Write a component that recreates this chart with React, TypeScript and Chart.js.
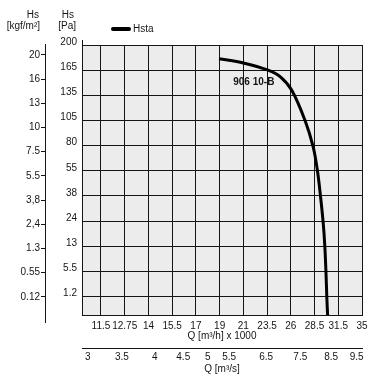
import React, { useEffect, useRef } from 'react';
import { Chart, registerables, LinearScale } from 'chart.js';

// ---- data ----
const qhTicks = [11.5, 12.75, 14, 15.5, 17, 19, 21, 23.5, 26, 28.5, 31.5, 35];
const qhLabels = ['11.5', '12.75', '14', '15.5', '17', '19', '21', '23.5', '26', '28.5', '31.5', '35'];
const qsTicks = [3, 3.5, 4, 4.5, 5, 5.5, 6.5, 7.5, 8.5, 9.5];
const paTicks = [1.2, 5.5, 13, 24, 38, 55, 80, 105, 135, 165, 200];
const kgfTicks = [0.12, 0.55, 1.3, 2.4, 3.8, 5.5, 7.5, 10, 13, 16, 20];
const kgfLabels = ['0.12', '0.55', '1.3', '2,4', '3,8', '5.5', '7.5', '10', '13', '16', '20'];

const curveQ = [18.95, 21, 23.6, 24.9, 26.1, 27.5, 28.35, 28.85, 29.25, 29.6, 29.8, 29.95, 30.05, 30.15];
const curveHs = [181, 175, 165, 157, 141, 105, 79, 56, 38, 23, 13, 5.2, 1.2, 0];
const seriesName = 'Hsta';
const curveTag = '906 10-B';
const curveTagAt = { q: 22.1, hs: 150 };

const M3H_PER_M3S = 3.6; // m³/s -> m³/h x 1000

// ---- non-uniform ("piecewise") axis: ticks equally spaced ----
type Piece = { breaks: number[]; factor: number; lowValue: number; lowPad: number; ticks: number[] };
const PIECES: Record<string, Piece> = {
  x: { breaks: qhTicks, factor: 1, lowValue: 10.5, lowPad: 0.8, ticks: qhTicks },
  x2: { breaks: qhTicks, factor: M3H_PER_M3S, lowValue: 10.5, lowPad: 0.8, ticks: qsTicks },
  y: { breaks: paTicks, factor: 1, lowValue: 0, lowPad: 0.73, ticks: paTicks },
  yk: { breaks: kgfTicks, factor: 1, lowValue: 0, lowPad: 0.75, ticks: kgfTicks },
};

class PiecewiseScale extends LinearScale {
  static id = 'piecewise';
  static defaults = {};
  piece(): Piece {
    return PIECES[(this as any).id];
  }
  toIndex(v: number): number {
    const p = this.piece();
    const b = p.breaks;
    const x = v * p.factor;
    if (x <= b[0]) return -p.lowPad + ((x - p.lowValue) / (b[0] - p.lowValue)) * p.lowPad;
    for (let i = 1; i < b.length; i++) {
      if (x <= b[i]) return i - 1 + (x - b[i - 1]) / (b[i] - b[i - 1]);
    }
    const n = b.length - 1;
    return n + (x - b[n]) / (b[n] - b[n - 1]);
  }
  buildTicks() {
    return this.piece().ticks.map((value) => ({ value }));
  }
  getPixelForValue(value: number) {
    if (value === null || value === undefined || isNaN(value)) return NaN;
    const a = this.toIndex((this as any).min);
    const z = this.toIndex((this as any).max);
    return this.getPixelForDecimal((this.toIndex(value) - a) / (z - a));
  }
  getValueForPixel(pixel: number) {
    const d = this.getDecimalForPixel(pixel);
    return (this as any).min + d * ((this as any).max - (this as any).min);
  }
}

Chart.register(...registerables, PiecewiseScale as any);

const ink = '#151515';
const family = '"Liberation Sans", Arial, Helvetica, sans-serif';
const f10 = { size: 10, family };

const alignPx = (p: number) => Math.round(p - 0.5) + 0.5;

const plotBg = {
  id: 'plotBg',
  beforeDraw(chart: any) {
    const { ctx, chartArea: a } = chart;
    ctx.save();
    ctx.fillStyle = '#ececec';
    ctx.fillRect(a.left, a.top, a.right - a.left, a.bottom - a.top);
    ctx.restore();
  },
};

const decor = {
  id: 'decor',
  afterDraw(chart: any) {
    const { ctx, chartArea: a, scales } = chart;
    const yk = scales.yk;
    const y = scales.y;
    const x = scales.x;
    ctx.save();
    // axis line extensions
    ctx.strokeStyle = ink;
    ctx.lineWidth = 1;
    ctx.beginPath();
    const kx = alignPx(yk.right);
    ctx.moveTo(kx, a.top - 1);
    ctx.lineTo(kx, a.bottom + 8);
    const px = alignPx(y.right);
    ctx.moveTo(px, a.top - 5);
    ctx.lineTo(px, a.top);
    ctx.stroke();

    // axis titles above the vertical axes
    ctx.fillStyle = ink;
    ctx.font = `10px ${family}`;
    ctx.textAlign = 'right';
    ctx.textBaseline = 'middle';
    ctx.fillText('Hs', yk.right - 6, 15);
    ctx.fillText('[kgf/m²]', yk.right - 5, 26);
    ctx.fillText('Hs', y.right - 8, 15);
    ctx.fillText('[Pa]', y.right - 6, 26);

    // legend
    const ds = chart.data.datasets[0];
    const lx = a.left + 31;
    const ly = 29;
    ctx.strokeStyle = ds.borderColor;
    ctx.lineWidth = 4;
    ctx.lineCap = 'round';
    ctx.beginPath();
    ctx.moveTo(lx, ly);
    ctx.lineTo(lx + 16, ly);
    ctx.stroke();
    ctx.textAlign = 'left';
    ctx.fillText(ds.label, lx + 20, ly + 0.5);

    // curve tag
    ctx.font = `bold 10px ${family}`;
    ctx.textAlign = 'center';
    ctx.fillText(curveTag, x.getPixelForValue(curveTagAt.q), y.getPixelForValue(curveTagAt.hs));
    ctx.restore();
  },
};

export default function App() {
  const ref = useRef<HTMLCanvasElement>(null);
  useEffect(() => {
    if (!ref.current) return;
    const chart = new Chart(ref.current, {
      type: 'line',
      data: {
        datasets: [
          {
            label: seriesName,
            data: curveQ.map((q, i) => ({ x: q, y: curveHs[i] })),
            borderColor: '#000',
            borderWidth: 3,
            pointRadius: 0,
            tension: 0.35,
            fill: false,
            xAxisID: 'x',
            yAxisID: 'y',
          },
        ],
      },
      options: {
        responsive: false,
        animation: false,
        events: [],
        layout: { padding: { top: 45, right: 18, left: 0, bottom: 0 } },
        plugins: { legend: { display: false }, tooltip: { enabled: false } },
        scales: {
          x: {
            type: 'piecewise',
            position: 'bottom',
            weight: 0,
            min: 10.5,
            max: 35,
            grid: { color: ink, lineWidth: 1, drawTicks: false },
            border: { color: ink, width: 1 },
            ticks: {
              autoSkip: false,
              maxRotation: 0,
              padding: 5,
              color: ink,
              font: f10,
              callback: (_v: any, i: number) => qhLabels[i],
            },
            title: { display: true, text: 'Q [m³/h] x 1000', color: ink, font: f10, padding: { top: 0, bottom: 6 } },
            afterFit: (s: any) => {
              s.height = 33;
            },
          },
          x2: {
            type: 'piecewise',
            position: 'bottom',
            weight: 1,
            min: 10.5 / M3H_PER_M3S,
            max: 35 / M3H_PER_M3S,
            grid: { drawOnChartArea: false, drawTicks: false },
            border: { color: ink, width: 1 },
            ticks: {
              autoSkip: false,
              maxRotation: 0,
              padding: 3,
              color: ink,
              font: f10,
              callback: (v: any) => String(v),
            },
            title: { display: true, text: 'Q [m³/s]', color: ink, font: f10, padding: { top: 0, bottom: 10 } },
            afterFit: (s: any) => {
              s.height = 37;
            },
          },
          y: {
            type: 'piecewise',
            position: 'left',
            weight: 0,
            min: 0,
            max: 200,
            grid: { color: ink, lineWidth: 1, drawTicks: false },
            border: { color: ink, width: 1 },
            ticks: {
              autoSkip: false,
              padding: 5,
              labelOffset: -3,
              color: ink,
              font: f10,
              callback: (v: any) => String(v),
            },
            afterFit: (s: any) => {
              s.width = 37;
            },
          },
          yk: {
            type: 'piecewise',
            position: 'left',
            weight: 1,
            min: 0,
            max: 21.64,
            grid: { drawOnChartArea: false, drawTicks: true, tickLength: 4, color: ink },
            border: { color: ink, width: 1 },
            ticks: {
              autoSkip: false,
              padding: 1,
              color: ink,
              font: f10,
              callback: (_v: any, i: number) => kgfLabels[i],
            },
            afterFit: (s: any) => {
              s.width = 45;
            },
          },
        } as any,
      },
      plugins: [plotBg, decor],
    });
    return () => chart.destroy();
  }, []);
  return (
    <div style={{ position: 'fixed', left: 0, top: 0, width: 380, height: 385, background: '#fff' }}>
      <canvas ref={ref} width={380} height={385} style={{ display: 'block' }} />
    </div>
  );
}
